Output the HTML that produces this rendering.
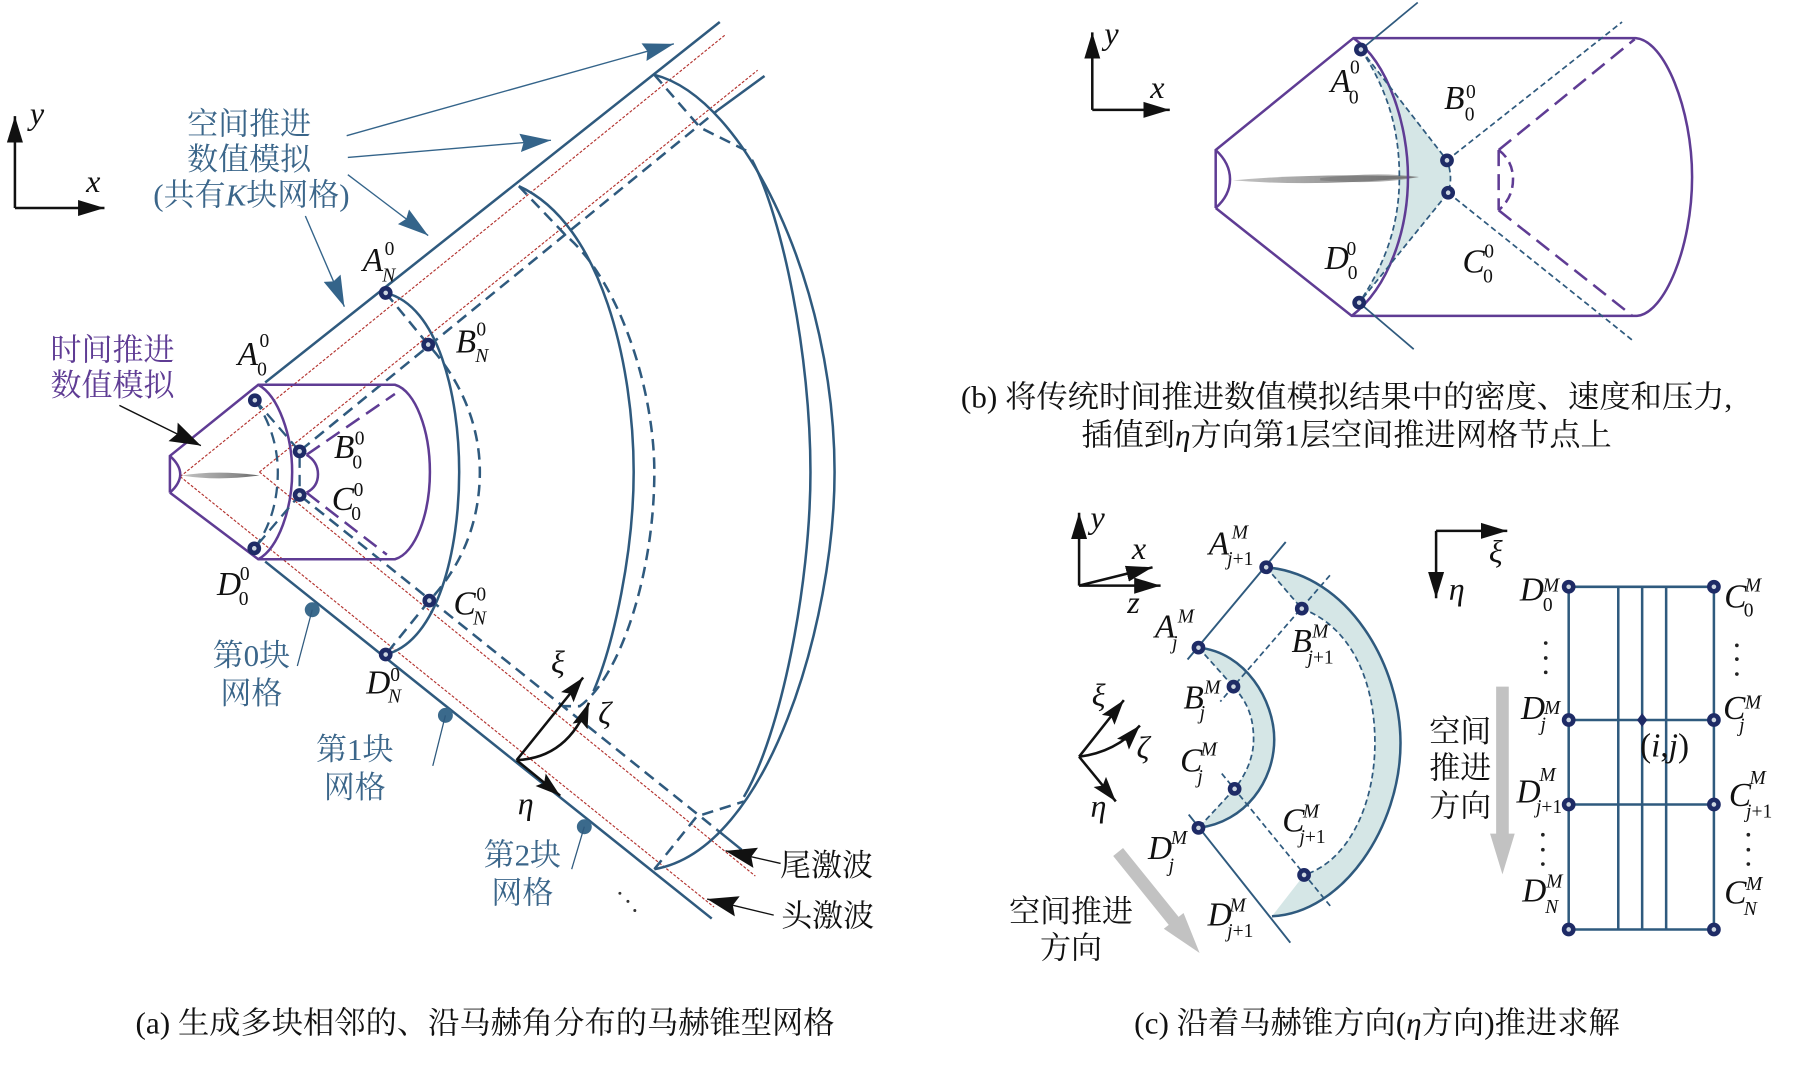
<!DOCTYPE html>
<html><head><meta charset="utf-8">
<style>
html,body{margin:0;padding:0;background:#fff;width:1800px;height:1068px;overflow:hidden}
svg{display:block}
text{font-family:"Liberation Serif","Noto Serif CJK SC",serif;fill:#111}
.cn{font-size:27px}
.bl{fill:#3b668a}
.pu{fill:#5f3c94}
.L{font-size:29px;font-style:italic;fill:#111}
.A{font-size:28px;font-style:italic;fill:#111}
.S{font-size:17px;font-style:italic;fill:#111}
.n{font-size:17px;fill:#111}
.i{font-style:italic}
.b{fill:none;stroke:#2f5a7e;stroke-width:2.2}
.bd{fill:none;stroke:#2f5a7e;stroke-width:2.2;stroke-dasharray:10 6}
.bt{fill:none;stroke:#2f5a7e;stroke-width:1.5;stroke-dasharray:5 3}
.p{fill:none;stroke:#5f3c94;stroke-width:2.2}
.pd{fill:none;stroke:#5f3c94;stroke-width:2.2;stroke-dasharray:14 7}
.r{fill:none;stroke:#b3322e;stroke-width:1;stroke-dasharray:2.5 1.5}
.k{fill:none;stroke:#111;stroke-width:2.2}
.d{fill:#cdd6e0;stroke:#1e2b66;stroke-width:4}
.lead{fill:none;stroke:#2f5a7e;stroke-width:1.1}
</style></head>
<body>
<svg xmlns="http://www.w3.org/2000/svg" width="1800" height="1068" viewBox="0 0 1568 930">
<defs>
<marker id="ka" markerUnits="userSpaceOnUse" markerWidth="24" markerHeight="16" refX="23" refY="8" orient="auto"><path d="M0,1 L23,8 L0,15 z" fill="#111"/></marker>
<marker id="ks" markerUnits="userSpaceOnUse" markerWidth="23" markerHeight="16" refX="22" refY="8" orient="auto"><path d="M0,1 L22,8 L0,15 L4,8 z" fill="#111"/></marker>
<marker id="kb" markerUnits="userSpaceOnUse" markerWidth="28" markerHeight="20" refX="27" refY="10" orient="auto"><path d="M0,1 L27,10 L0,19 L4,10 z" fill="#111"/></marker>
<marker id="ba" markerUnits="userSpaceOnUse" markerWidth="28" markerHeight="18" refX="27" refY="9" orient="auto"><path d="M0,1 L27,9 L0,17 L3,9 z" fill="#34648a"/></marker>
<linearGradient id="sp" x1="0" y1="0" x2="1" y2="0"><stop offset="0" stop-color="#c4c4c4"/><stop offset=".7" stop-color="#8c8c8c"/><stop offset="1" stop-color="#666"/></linearGradient>
</defs>

<!-- PANEL A -->
<path class="k" marker-end="url(#ka)" d="M13,181 L13,101"/>
<path class="k" marker-end="url(#ka)" d="M13,181 L91,181"/>
<text class="A" x="26" y="108">y</text><text class="A" x="75" y="167">x</text>

<path class="r" d="M157,415 L632,30"/><path class="r" d="M226,411 L660,61"/>
<path class="r" d="M157,415 L622,790"/><path class="r" d="M226,411 L658,763"/>

<path d="M158,414 Q190,409 226,414 Q190,419 158,414z" fill="url(#sp)"/>

<path class="b" d="M231,333 L627,19"/>
<path class="b" d="M231,489 L620,800"/>
<path class="bd" d="M262,392 L625,96"/><path class="b" d="M625,96 L666,66"/>
<path class="bd" d="M262,432 L625,723"/><path class="b" d="M625,723 L646,740"/>

<!-- sections -->
<path class="b" d="M336,255 C382,266 400,345 400,411 C400,478 382,558 336,570"/>
<path class="bd" d="M336,255 L373,300 C405,335 418,375 418,411 C418,450 405,490 374,523 L336,570"/>
<path class="b" d="M452,162 C525,195 552,320 552,411 C552,480 535,560 517,602"/>
<path class="bd" d="M452,162 L493,205 C540,245 570,340 570,411 C570,500 540,590 505,615 L490,615"/>
<path class="b" d="M570,65 C650,85 727,250 727,411 C727,540 670,740 570,757"/>
<path class="b" d="M655,139 C682,190 706,310 706,411 C706,510 680,640 648,694"/>
<path class="bd" d="M570,65 L610,111 L650,131"/>
<path class="bd" d="M570,757 L607,711 L648,698"/>

<!-- purple cone -->
<path class="p" d="M148,429 L148,397 L225,335 L344,335 C362,340 374.500,375 374.500,411 C374.500,447 362,482 344,487 L225,487 L148,429"/>
<path class="p" d="M148,397 Q157,405 157,413 Q157,421 148,429"/>
<path class="p" d="M225,335 C243,345 254.500,380 254.500,411 C254.500,442 243,477 225,487"/>
<path class="pd" d="M267,396 L344,343"/><path class="pd" d="M267,429 L337,483"/>
<path class="p" d="M267,396 Q277,402 277,413 Q277,424 267,429"/>
<path class="bd" style="stroke-width:2" d="M222,348 C236,368 242,390 242,411 C242,435 236,458 222,477"/>
<path class="bd" style="stroke-width:2" d="M222,348 L261,393 L261,431 L222,477"/>

<circle class="d" cx="222" cy="348.500" r="4"/><circle class="d" cx="221.500" cy="477.500" r="4"/>
<circle class="d" cx="261" cy="393" r="4"/><circle class="d" cx="261" cy="431" r="4"/>
<circle class="d" cx="336" cy="255" r="4"/><circle class="d" cx="373" cy="300" r="4"/>
<circle class="d" cx="374" cy="523" r="4"/><circle class="d" cx="336" cy="570" r="4"/>

<!-- local axes -->
<path class="k" marker-end="url(#ks)" d="M450,662 L508,590"/>
<path class="k" marker-end="url(#ks)" d="M450,662 Q495,660 513,612"/>
<path class="k" marker-end="url(#ks)" d="M450,662 L488,693"/>
<text class="A" x="480" y="586">ξ</text>
<text class="A" x="521" y="630">ζ</text>
<text class="A" x="451" y="709">η</text>

<!-- callouts -->
<g stroke="#34648a" stroke-width="1.2" fill="none">
<path marker-end="url(#ba)" d="M302,118 L587,38"/>
<path marker-end="url(#ba)" d="M303,137 L480,122"/>
<path marker-end="url(#ba)" d="M303,152 L373,205"/>
<path marker-end="url(#ba)" d="M266,188 L300,267"/>
</g>
<path stroke="#111" stroke-width="1.2" fill="none" marker-end="url(#kb)" d="M104,353 L175,388"/>
<path stroke="#111" stroke-width="1.2" fill="none" marker-end="url(#kb)" d="M680,752 L632,741"/>
<path stroke="#111" stroke-width="1.2" fill="none" marker-end="url(#kb)" d="M674,797 L616,783"/>

<circle cx="272" cy="531" r="6.500" fill="#3b6a8c"/><path class="lead" d="M272,531 L259,580"/>
<circle cx="388" cy="623" r="6.500" fill="#3b6a8c"/><path class="lead" d="M388,623 L377,667"/>
<circle cx="509" cy="720" r="6.500" fill="#3b6a8c"/><path class="lead" d="M509,720 L498,757"/>
<g fill="#333"><circle cx="540" cy="778" r="1.300"/><circle cx="547" cy="785" r="1.300"/><circle cx="553" cy="793" r="1.300"/></g>

<text class="cn bl" x="217" y="117" text-anchor="middle">空间推进</text>
<text class="cn bl" x="217" y="148" text-anchor="middle">数值模拟</text>
<text class="cn bl" x="219" y="179" text-anchor="middle">(共有<tspan class="i">K</tspan>块网格)</text>
<text class="cn pu" x="98" y="314" text-anchor="middle">时间推进</text>
<text class="cn pu" x="98" y="345" text-anchor="middle">数值模拟</text>
<text class="cn bl" x="219" y="580" text-anchor="middle">第0块</text>
<text class="cn bl" x="219" y="613" text-anchor="middle">网格</text>
<text class="cn bl" x="309" y="662" text-anchor="middle">第1块</text>
<text class="cn bl" x="309" y="695" text-anchor="middle">网格</text>
<text class="cn bl" x="455" y="754" text-anchor="middle">第2块</text>
<text class="cn bl" x="455" y="787" text-anchor="middle">网格</text>
<text class="cn" x="720" y="763" text-anchor="middle">尾激波</text>
<text class="cn" x="721" y="807" text-anchor="middle">头激波</text>
<text class="cn" x="118" y="900" textLength="609" lengthAdjust="spacingAndGlyphs">(a) 生成多块相邻的、沿马赫角分布的马赫锥型网格</text>

<text class="L" x="207" y="318">A</text><text class="n" x="226" y="302">0</text><text class="n" x="224" y="327">0</text>
<text class="L" x="316" y="236">A</text><text class="n" x="335" y="222">0</text><text class="S" x="333" y="245">N</text>
<text class="L" x="397" y="307">B</text><text class="n" x="415" y="292">0</text><text class="S" x="414" y="315">N</text>
<text class="L" x="291" y="399">B</text><text class="n" x="309" y="387">0</text><text class="n" x="307" y="408">0</text>
<text class="L" x="289" y="444">C</text><text class="n" x="308" y="432">0</text><text class="n" x="306" y="453">0</text>
<text class="L" x="189" y="518">D</text><text class="n" x="209" y="505">0</text><text class="n" x="208" y="527">0</text>
<text class="L" x="395" y="535">C</text><text class="n" x="415" y="523">0</text><text class="S" x="412" y="544">N</text>
<text class="L" x="319" y="604">D</text><text class="n" x="340" y="593">0</text><text class="S" x="338" y="612">N</text>

<!-- PANEL B -->
<path class="k" marker-end="url(#ka)" d="M951.500,95.500 L951.500,28"/>
<path class="k" marker-end="url(#ka)" d="M951.500,95.500 L1019,95.500"/>
<text class="A" x="962" y="38">y</text><text class="A" x="1002" y="85">x</text>

<path d="M1185.500,43 L1260.500,139.500 Q1266,154 1261.500,167.700 L1184,263.500 C1210,225 1219,190 1219,154 C1219,115 1210,80 1185.500,43z" fill="#d5e6e6"/>
<path d="M1074,157 Q1150,150 1236,154 Q1150,163 1074,157z" fill="url(#sp)"/>
<path d="M1150,155 Q1200,149 1236,154 Q1200,161 1150,157z" fill="#777" opacity=".6"/>
<path class="p" d="M1059,181 L1059,130.500 L1179,33 L1425,33 C1450,35 1474,95 1474,154 C1474,215 1450,273 1426,275 L1177.500,275 L1059,181"/>
<path class="p" d="M1059,130.500 Q1071.500,142 1071.500,156 Q1071.500,170 1059,181"/>
<path class="p" d="M1179,33 C1210,55 1226.500,110 1226.500,154 C1226.500,200 1210,250 1177.500,275"/>
<path class="pd" d="M1305.500,130.500 L1424,34"/><path class="pd" d="M1305.500,183 L1421.500,274.500"/>
<path class="pd" d="M1305.500,130.500 L1305.500,183"/>
<path class="pd" style="stroke-dasharray:9 5" d="M1305.500,130.500 Q1318,140 1318,156 Q1318,172 1305.500,183"/>
<path fill="none" stroke="#2f5a7e" stroke-width="1.500" d="M1185.500,43 L1235,2"/>
<path fill="none" stroke="#2f5a7e" stroke-width="1.500" d="M1184,263.500 L1231.500,304"/>
<path class="bt" d="M1260.500,139.500 L1413,19"/><path class="bt" d="M1261.500,167.700 L1423,297"/>
<path class="bt" d="M1185.500,43 L1260.500,139.500 Q1266,154 1261.500,167.700 L1184,263.500"/>
<path class="bt" d="M1185.500,43 C1210,80 1219,115 1219,154 C1219,190 1210,225 1184,263.500"/>
<circle class="d" cx="1185.500" cy="43" r="4"/><circle class="d" cx="1184" cy="263.500" r="4"/>
<circle class="d" cx="1260.500" cy="139.500" r="4"/><circle class="d" cx="1261.500" cy="167.700" r="4"/>
<text class="L" x="1159" y="80">A</text><text class="n" x="1176" y="64">0</text><text class="n" x="1175" y="90">0</text>
<text class="L" x="1258" y="95">B</text><text class="n" x="1277" y="85">0</text><text class="n" x="1276" y="105">0</text>
<text class="L" x="1154" y="234">D</text><text class="n" x="1173" y="222">0</text><text class="n" x="1174" y="243">0</text>
<text class="L" x="1274" y="237">C</text><text class="n" x="1293" y="224">0</text><text class="n" x="1292" y="246">0</text>
<text class="cn" x="837" y="355" textLength="672" lengthAdjust="spacingAndGlyphs">(b) 将传统时间推进数值模拟结果中的密度、速度和压力,</text>
<text class="cn" x="942" y="388" textLength="462" lengthAdjust="spacingAndGlyphs">插值到<tspan class="i">η</tspan>方向第1层空间推进网格节点上</text>

<!-- PANEL C -->
<path class="k" marker-end="url(#ka)" d="M940,510 L940,446.500"/>
<path class="k" marker-end="url(#ka)" d="M940,510 L1011,510"/>
<path class="k" marker-end="url(#ka)" d="M940,510 L1004,494"/>
<text class="A" x="950" y="460">y</text>
<text class="A" x="986" y="487">x</text>
<text class="A" x="982" y="534">z</text>

<path d="M1103,494 C1175,500 1220,580 1220,647 C1220,720 1170,795 1108,798 L1136,762 C1175,750 1197.700,700 1197.700,647 C1197.700,590 1175,545 1134,530z" fill="#d5e6e6"/>
<path d="M1044,564 C1085,568 1110,610 1110,644 C1110,680 1085,716 1044,721 L1075.500,687 C1085,675 1092,660 1092,644 C1092,625 1087,612 1074.500,598z" fill="#d5e6e6"/>
<path class="b" style="stroke-width:1.700" d="M1034.500,574.300 L1120,472"/>
<path class="b" style="stroke-width:1.700" d="M1035.500,709.400 L1124,821"/>
<path class="b" d="M1103,494 C1175,500 1220,580 1220,647 C1220,720 1170,795 1108,798"/>
<path class="b" d="M1044,564 C1085,568 1110,610 1110,644 C1110,680 1085,716 1044,721"/>
<path class="bt" d="M1134,530 C1175,545 1197.700,590 1197.700,647 C1197.700,700 1175,750 1136,762"/>
<path class="bt" d="M1074.500,598 C1087,612 1092,625 1092,644 C1092,660 1085,675 1075.500,687"/>
<path class="bt" d="M1158.500,501 L1063,611"/>
<path class="bt" d="M1064.300,673.700 L1160,790.500"/>
<path class="bt" d="M1103,494 L1134,530"/>
<path class="bt" d="M1044,564 L1074.500,598"/>
<path class="bt" d="M1075.500,687 L1044,721"/>
<circle class="d" cx="1044" cy="564" r="4"/><circle class="d" cx="1103" cy="494" r="4"/>
<circle class="d" cx="1134" cy="530" r="4"/><circle class="d" cx="1074.500" cy="598" r="4"/>
<circle class="d" cx="1075.500" cy="687" r="4"/><circle class="d" cx="1044" cy="721" r="4"/>
<circle class="d" cx="1136" cy="762" r="4"/>

<path class="k" marker-end="url(#ks)" d="M940,659 L979,609.700"/>
<path class="k" marker-end="url(#ks)" d="M940,659 Q972,655 993,631.800"/>
<path class="k" marker-end="url(#ks)" d="M940,659 L972,698"/>
<text class="A" x="951" y="615">ξ</text>
<text class="A" x="990" y="660">ζ</text>
<text class="A" x="950" y="711">η</text>

<path class="k" marker-end="url(#ka)" d="M1251,462.300 L1313,462.300"/>
<path class="k" marker-end="url(#ka)" d="M1251,462.300 L1251,521"/>
<text class="A" x="1297" y="490">ξ</text>
<text class="A" x="1262" y="522">η</text>

<polygon points="1303.300,598 1314.300,598 1314.300,726 1319.500,726 1308.800,761.500 1298,726 1303.300,726" fill="#c2c2c2"/>
<polygon points="978.300,738.500 969.700,745.500 1018.100,805.500 1013.800,808.900 1045,830 1031,795.100 1026.700,798.500" fill="#c2c2c2"/>

<path class="b" d="M1366.500,511 L1493,511 L1493,809.500 L1366.500,809.500z"/>
<path class="b" d="M1409.700,511V809.500M1430.500,511V809.500M1451.400,511V809.500"/>
<path class="b" d="M1366.500,627H1493M1366.500,700.600H1493"/>
<polygon points="1430.500,621 1435,627 1430.500,633 1426,627" fill="#1e2b66"/>
<circle class="d" cx="1366.500" cy="511" r="4"/><circle class="d" cx="1493" cy="511" r="4"/>
<circle class="d" cx="1366.500" cy="627" r="4"/><circle class="d" cx="1493" cy="627" r="4"/>
<circle class="d" cx="1366.500" cy="700.600" r="4"/><circle class="d" cx="1493" cy="700.600" r="4"/>
<circle class="d" cx="1366.500" cy="809.500" r="4"/><circle class="d" cx="1493" cy="809.500" r="4"/>
<g fill="#222">
<circle cx="1346.500" cy="560" r="1.600"/><circle cx="1346.500" cy="573" r="1.600"/><circle cx="1346.500" cy="585.500" r="1.600"/>
<circle cx="1344" cy="727" r="1.600"/><circle cx="1344" cy="740" r="1.600"/><circle cx="1344" cy="752.500" r="1.600"/>
<circle cx="1513" cy="562" r="1.600"/><circle cx="1513" cy="574" r="1.600"/><circle cx="1513" cy="587" r="1.600"/>
<circle cx="1523" cy="727" r="1.600"/><circle cx="1523" cy="740" r="1.600"/><circle cx="1523" cy="752.500" r="1.600"/>
</g>
<text x="1450" y="659" text-anchor="middle" style="font-size:29px">(<tspan class="i">i</tspan>,<tspan class="i">j</tspan>)</text>

<text class="cn" x="1272" y="646" text-anchor="middle">空间</text>
<text class="cn" x="1272" y="678" text-anchor="middle">推进</text>
<text class="cn" x="1272" y="711" text-anchor="middle">方向</text>
<text class="cn" x="933" y="803" text-anchor="middle">空间推进</text>
<text class="cn" x="933" y="835" text-anchor="middle">方向</text>
<text class="cn" x="988" y="900" textLength="423" lengthAdjust="spacingAndGlyphs">(c) 沿着马赫锥方向(<tspan class="i">η</tspan>方向)推进求解</text>

<text class="L" x="1053" y="483">A</text><text class="S" x="1073" y="469">M</text><text class="S" x="1069" y="492"><tspan>j</tspan><tspan style="font-style:normal">+1</tspan></text>
<text class="L" x="1006" y="555">A</text><text class="S" x="1026" y="542">M</text><text class="S" x="1021" y="565">j</text>
<text class="L" x="1125" y="568">B</text><text class="S" x="1143" y="555">M</text><text class="S" x="1139" y="578"><tspan>j</tspan><tspan style="font-style:normal">+1</tspan></text>
<text class="L" x="1031" y="617">B</text><text class="S" x="1049" y="604">M</text><text class="S" x="1045" y="626">j</text>
<text class="L" x="1028" y="672">C</text><text class="S" x="1046" y="658">M</text><text class="S" x="1043" y="682">j</text>
<text class="L" x="1117" y="724">C</text><text class="S" x="1135" y="712">M</text><text class="S" x="1132" y="734"><tspan>j</tspan><tspan style="font-style:normal">+1</tspan></text>
<text class="L" x="1000" y="748">D</text><text class="S" x="1020" y="735">M</text><text class="S" x="1018" y="759">j</text>
<text class="L" x="1052" y="806">D</text><text class="S" x="1071" y="794">M</text><text class="S" x="1069" y="816"><tspan>j</tspan><tspan style="font-style:normal">+1</tspan></text>

<text class="L" x="1324" y="523">D</text><text class="S" x="1344" y="515">M</text><text class="n" x="1344" y="532">0</text>
<text class="L" x="1502" y="529">C</text><text class="S" x="1520" y="515">M</text><text class="n" x="1519" y="537">0</text>
<text class="L" x="1325" y="626">D</text><text class="S" x="1345" y="622">M</text><text class="S" x="1342" y="636">j</text>
<text class="L" x="1501" y="626">C</text><text class="S" x="1520" y="617">M</text><text class="S" x="1515" y="637">j</text>
<text class="L" x="1321" y="699">D</text><text class="S" x="1341" y="680">M</text><text class="S" x="1338" y="708"><tspan>j</tspan><tspan style="font-style:normal">+1</tspan></text>
<text class="L" x="1506" y="702">C</text><text class="S" x="1524" y="683">M</text><text class="S" x="1521" y="712"><tspan>j</tspan><tspan style="font-style:normal">+1</tspan></text>
<text class="L" x="1326" y="785">D</text><text class="S" x="1347" y="773">M</text><text class="S" x="1346" y="795">N</text>
<text class="L" x="1502" y="787">C</text><text class="S" x="1521" y="775">M</text><text class="S" x="1519" y="797">N</text>
</svg>
</body></html>
